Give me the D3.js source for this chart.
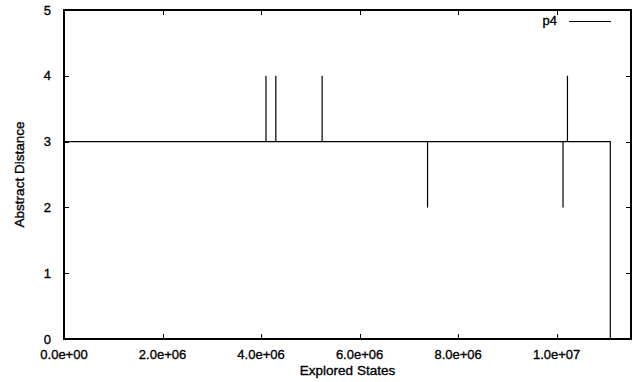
<!DOCTYPE html>
<html><head><meta charset="utf-8">
<script src="https://cdn.jsdelivr.net/npm/d3@7"></script>
<style>body{margin:0;background:#fff}svg{display:block}text{font-family:"Liberation Sans",Arial,sans-serif;fill:#000;stroke:#000;stroke-width:0.35px}</style>
</head><body>
<script>
const states   = [0, 4.10e6, 4.10e6, 4.10e6, 4.30e6, 4.30e6, 4.30e6, 5.24e6, 5.24e6, 5.24e6, 7.38e6, 7.38e6, 7.38e6, 10.13e6, 10.13e6, 10.13e6, 10.22e6, 10.22e6, 10.22e6, 11.09e6, 11.09e6, 11.09e6];
const distance = [3, 3, 4, 3, 3, 4, 3, 3, 4, 3, 3, 2, 3, 3, 2, 3, 3, 4, 3, 3, 1, 0];
const xTicks = [0, 2e6, 4e6, 6e6, 8e6, 1e7];
const xTickLabels = ["0.0e+00", "2.0e+06", "4.0e+06", "6.0e+06", "8.0e+06", "1.0e+07"];
const yTicks = [0, 1, 2, 3, 4, 5];
const seriesName = "p4";
const xMax = 11.51e6;

const W = 636, H = 382;
const m = {l: 64, r: 5, t: 10, b: 43};
const svg = d3.select("body").append("svg").attr("width", W).attr("height", H);
const x = d3.scaleLinear().domain([0, xMax]).range([m.l, W - m.r]);
const y = d3.scaleLinear().domain([0, 5]).range([H - m.b, m.t]);

const pts = states.map((s, i) => [s, distance[i]]);
const line = d3.line().x(d => x(d[0])).y(d => y(d[1]));
svg.append("path").datum(pts).attr("d", line).attr("fill", "none").attr("stroke", "#000").attr("stroke-width", 1.2);

const g = svg.append("g");
const tl = 5;
xTicks.forEach((t, i) => {
  const px = Math.round(x(t)) + 0.5;
  g.append("line").attr("x1", px).attr("x2", px).attr("y1", y(0)).attr("y2", y(0) - tl).attr("stroke", "#000");
  g.append("line").attr("x1", px).attr("x2", px).attr("y1", y(5)).attr("y2", y(5) + tl).attr("stroke", "#000");
  svg.append("text").attr("x", x(t)).attr("y", 359).attr("text-anchor", "middle").attr("font-size", 13).text(xTickLabels[i]);
});
yTicks.forEach(t => {
  const py = Math.round(y(t)) + 0.5;
  g.append("line").attr("x1", x(0)).attr("x2", x(0) + tl).attr("y1", py).attr("y2", py).attr("stroke", "#000");
  g.append("line").attr("x1", x(xMax)).attr("x2", x(xMax) - tl).attr("y1", py).attr("y2", py).attr("stroke", "#000");
  svg.append("text").attr("x", 51).attr("y", y(t) + 4.5).attr("text-anchor", "end").attr("font-size", 13).text(t);
});
svg.append("rect").attr("x", x(0)).attr("y", y(5)).attr("width", x(xMax) - x(0)).attr("height", y(0) - y(5))
  .attr("fill", "none").attr("stroke", "#000").attr("stroke-width", 2);

svg.append("text").attr("x", (x(0) + x(xMax)) / 2).attr("y", 375).attr("text-anchor", "middle").attr("font-size", 13.5).text("Explored States");
svg.append("text").attr("transform", `translate(24,${(y(0) + y(5)) / 2}) rotate(-90)`).attr("text-anchor", "middle").attr("font-size", 13.5).text("Abstract Distance");

svg.append("text").attr("x", 557).attr("y", 25).attr("text-anchor", "end").attr("font-size", 13).text(seriesName);
svg.append("line").attr("x1", 569).attr("x2", 611).attr("y1", 21.5).attr("y2", 21.5).attr("stroke", "#000").attr("stroke-width", 1.2);
</script>
</body></html>
